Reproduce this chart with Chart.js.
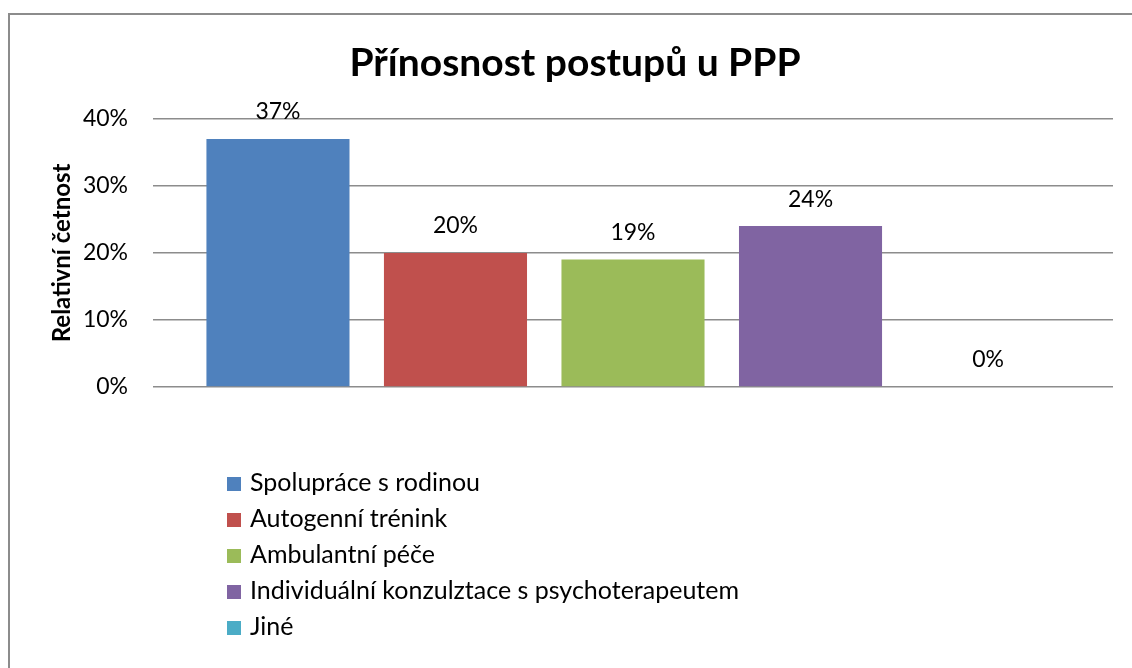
<!DOCTYPE html>
<html>
<head>
<meta charset="utf-8">
<script src="https://cdn.jsdelivr.net/npm/chart.js@4"></script>
<style>
  body { margin: 0; background: #fff; }
  #wrap { position: relative; width: 1132px; height: 668px; overflow: hidden; }
  #frame { position: absolute; left: 8px; top: 13px; width: 1140px; height: 680px; border: 2px solid #8c8c8c; box-sizing: border-box; }
  canvas { position: absolute; left: 0; top: 0; }
  #legend { position: absolute; left: 227px; top: 463px; font-family: Lato, sans-serif; font-size: 25px; color: #000; }
  #legend div { height: 36px; line-height: 36px; white-space: nowrap; }
  #legend span { display: inline-block; width: 14px; height: 14px; margin-right: 9px; vertical-align: 0px; }
</style>
</head>
<body>
<div id="wrap">
  <div id="frame"></div>
  <canvas id="barChart" width="1132" height="668"></canvas>
  <div id="legend"></div>
</div>
<script>
var categories = ['Spolupráce s rodinou', 'Autogenní trénink', 'Ambulantní péče', 'Individuální konzulztace s psychoterapeutem', 'Jiné'];
var values = [37, 20, 19, 24, 0];
var colors = ['#4F81BD', '#C0504D', '#9BBB59', '#8064A2', '#4BACC6'];
var tickValues = [0, 10, 20, 30, 40];

// value labels above the bars
var valueLabels = {
  id: 'valueLabels',
  afterDatasetsDraw: function (chart) {
    var ctx = chart.ctx;
    var meta = chart.getDatasetMeta(0);
    ctx.save();
    ctx.font = '23px Lato, sans-serif';
    ctx.fillStyle = '#000';
    ctx.textAlign = 'center';
    ctx.textBaseline = 'middle';
    meta.data.forEach(function (bar, i) {
      ctx.fillText(values[i] + '%', bar.x, bar.y - 27);
    });
    ctx.restore();
  }
};

var ctx = document.getElementById('barChart').getContext('2d');
var chart = new Chart(ctx, {
  type: 'bar',
  data: {
    labels: categories,
    datasets: [{
      // categories sit on index positions so the gridlines can run past them, like in Excel
      data: values.map(function (v, i) { return { x: i, y: v }; }),
      backgroundColor: colors,
      borderWidth: 0,
      barPercentage: 0.806,
      categoryPercentage: 1
    }]
  },
  options: {
    responsive: false,
    animation: false,
    layout: { padding: { left: 37, right: 19, top: 0, bottom: 281 } },
    scales: {
      y: {
        min: 0,
        max: 40,
        afterBuildTicks: function (axis) {
          axis.ticks = tickValues.map(function (v) { return { value: v }; });
        },
        afterFit: function (axis) {
          axis.width = 116;
        },
        ticks: {
          color: '#000',
          padding: 25,
          font: { family: 'Lato', size: 23 },
          callback: function (v) { return v + '%'; }
        },
        grid: { color: '#8c8c8c', lineWidth: 1.5, drawTicks: false },
        border: { display: false },
        title: {
          display: true,
          text: 'Relativní četnost',
          color: '#000',
          font: { family: 'Lato', size: 24, weight: 'bold' },
          padding: { top: 11, bottom: 0 }
        }
      },
      x: {
        type: 'linear',
        offset: false,
        min: -0.704,
        max: categories.length - 1 + 0.704,
        afterBuildTicks: function (axis) {
          axis.ticks = categories.map(function (c, i) { return { value: i }; });
        },
        display: false
      }
    },
    plugins: {
      legend: { display: false },
      tooltip: { enabled: false },
      title: {
        display: true,
        text: 'Přínosnost postupů u PPP',
        color: '#000',
        font: { family: 'Lato', size: 39, weight: 'bold' },
        padding: { top: 40, bottom: 32 }
      }
    }
  },
  plugins: [valueLabels]
});

var legend = document.getElementById('legend');
categories.forEach(function (c, i) {
  var row = document.createElement('div');
  var box = document.createElement('span');
  box.style.background = colors[i];
  row.appendChild(box);
  row.appendChild(document.createTextNode(c));
  legend.appendChild(row);
});
</script>
</body>
</html>
